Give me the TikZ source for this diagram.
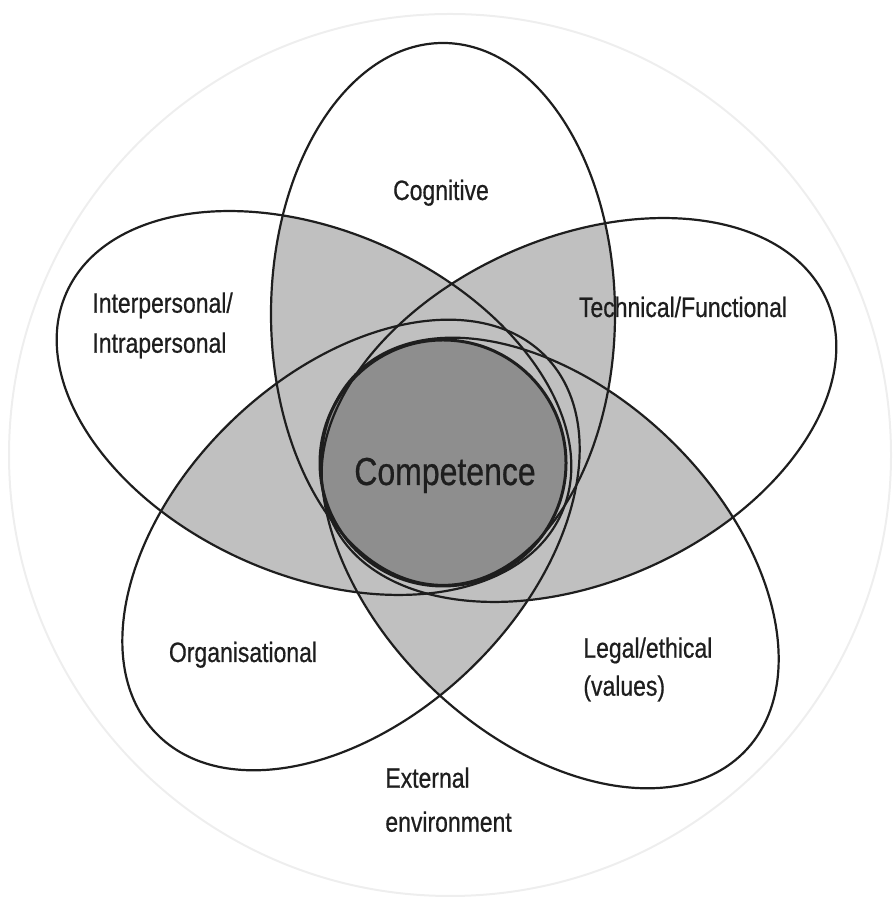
\documentclass[tikz,border=0pt]{standalone}
\usepackage{fontspec}
\setmainfont{Liberation Sans}[FakeStretch=0.82, FakeBold=0.6]
\definecolor{ov}{RGB}{192,192,192}
\definecolor{core}{RGB}{142,142,142}
\definecolor{ink}{RGB}{30,30,30}
\begin{document}
\begin{tikzpicture}[x=0.5pt,y=0.5pt,
  lbl/.style={inner sep=0pt, text=ink, font=\fontsize{14}{20}\selectfont},
  petal/.style={draw=ink, line width=1.1pt},
  corecircle/.style={draw=ink, line width=1.5pt}]
\useasboundingbox (0,0) rectangle (893,897);
\def\EA{(443,583) ellipse [x radius=172, y radius=271]}
\def\EB{(579,487) ellipse [x radius=271, y radius=172, rotate=24]}
\def\EE{(314,494) ellipse [x radius=271, y radius=172, rotate=-24]}
\def\EC{(550,334) ellipse [x radius=271, y radius=172, rotate=-44]}
\def\ED{(351,352) ellipse [x radius=271, y radius=172, rotate=44]}
% faint outer circle (external environment)
\draw[gray!13, line width=1pt] (450,442) circle [radius=441];
% overlaps
\begin{scope}\clip \EA; \fill[ov] \EB; \fill[ov] \EC; \fill[ov] \ED; \fill[ov] \EE;\end{scope}
\begin{scope}\clip \EB; \fill[ov] \EC; \fill[ov] \ED; \fill[ov] \EE;\end{scope}
\begin{scope}\clip \EC; \fill[ov] \ED; \fill[ov] \EE;\end{scope}
\begin{scope}\clip \ED; \fill[ov] \EE;\end{scope}
% core
\fill[core] (443,434) circle [radius=123];
% outlines
\path[petal] \EA;
\path[petal] \EB;
\path[petal] \EC;
\path[petal] \ED;
\path[petal] \EE;
\node[corecircle, circle, minimum size=123pt, inner sep=0pt] (core) at (443,434) {};
% labels
\node[lbl, anchor=base] (cog) at (441,697) {Cognitive};
\node[lbl, anchor=base] (tech) at (683,580) {Technical/Functional};
\node[lbl, anchor=north west, align=left] (inter) at (92,605) {Interpersonal/\\Intrapersonal};
\node[lbl, anchor=base] (org) at (243,235) {Organisational};
\node[lbl, anchor=north west, align=left, font=\fontsize{14}{19}\selectfont] (legal) at (583,260) {Legal/ethical\\(values)};
\node[lbl, anchor=north west, align=left, font=\fontsize{14}{22}\selectfont] (ext) at (385,130) {External\\environment};
\node[lbl, anchor=base, font=\fontsize{19.5}{24}\selectfont] (comp) at (445,412) {Competence};
\end{tikzpicture}
\end{document}
